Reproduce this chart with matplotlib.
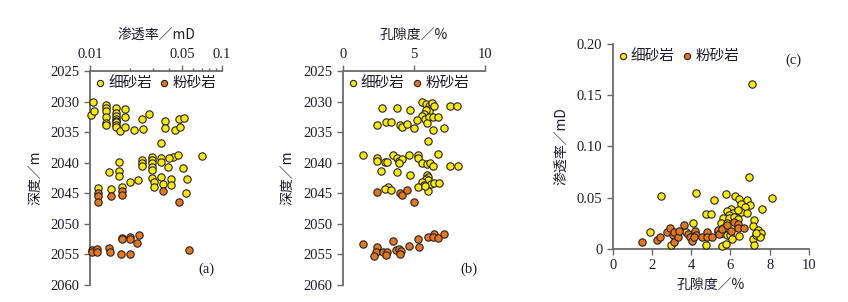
# Depth / permeability / porosity cross plots for fine sandstone vs siltstone
import numpy as np
import matplotlib.pyplot as plt
from matplotlib.ticker import FixedLocator, NullFormatter

plt.rcParams['font.family'] = ['Liberation Serif', 'Noto Sans CJK SC', 'DejaVu Sans']
CJK = ['Noto Sans CJK SC', 'DejaVu Sans']

# ─────────────────────────────────────────────
# DATA
# ─────────────────────────────────────────────

# (a) depth vs permeability
fine_a_perm = [0.0106, 0.0101, 0.0107,
               0.0133, 0.0133, 0.0133, 0.0133, 0.0133, 0.0133,
               0.0158, 0.0158, 0.0158, 0.0158, 0.0158, 0.0158, 0.0158, 0.0158,
               0.0169, 0.0185, 0.0185, 0.0185, 0.0216, 0.0247, 0.0253, 0.0281,
               0.0371, 0.0373, 0.0440, 0.0476, 0.0477, 0.0517,
               0.0348, 0.0705, 0.0427, 0.0463, 0.0396, 0.0344, 0.0344,
               0.0296, 0.0296, 0.0296, 0.0296, 0.0296,
               0.0248, 0.0248, 0.0248, 0.0391, 0.0506,
               0.0165, 0.0166, 0.0166, 0.0139, 0.0202, 0.0233,
               0.0296, 0.0305, 0.0305, 0.0344, 0.0360, 0.0408, 0.0408,
               0.0540, 0.0530, 0.0115, 0.0144, 0.0175]
fine_a_depth = [2030.1, 2032.2, 2031.6,
                2030.5, 2031.0, 2031.6, 2032.5, 2033.5, 2033.8,
                2031.0, 2031.9, 2032.4, 2032.8, 2033.1, 2033.4, 2033.9, 2034.2,
                2034.8, 2031.2, 2032.6, 2034.2, 2034.7, 2032.8, 2034.5, 2032.0,
                2033.2, 2034.3, 2034.6, 2032.8, 2034.1, 2032.7,
                2036.8, 2038.9, 2039.0, 2038.7, 2039.3, 2039.2, 2039.9,
                2039.0, 2039.6, 2040.1, 2040.7, 2041.2,
                2039.6, 2040.0, 2040.5, 2040.7, 2040.8,
                2039.9, 2041.4, 2042.2, 2041.5, 2043.2, 2042.9,
                2042.5, 2043.2, 2043.9, 2042.3, 2043.5, 2042.7, 2043.6,
                2042.7, 2045.0, 2044.1, 2044.3, 2043.9]
silt_a_perm = [0.0115, 0.0115, 0.0115, 0.0144, 0.0175, 0.0175, 0.0358, 0.0476,
               0.0175, 0.0175, 0.0202, 0.0202, 0.0235, 0.0229,
               0.0104, 0.0104, 0.0114, 0.0114, 0.0139, 0.0143, 0.0171, 0.0202,
               0.0558]
silt_a_depth = [2044.9, 2045.4, 2046.5, 2045.5, 2044.7, 2045.2, 2044.7, 2046.4,
                2052.3, 2052.5, 2052.2, 2052.5, 2051.9, 2053.1,
                2054.2, 2054.6, 2054.1, 2054.6, 2054.0, 2054.6, 2054.9, 2054.9,
                2054.3]

# (b) depth vs porosity
fine_b_por = [2.74, 3.84, 4.73, 5.55, 5.88, 6.10, 6.10, 6.10, 6.30, 6.42,
              5.85, 5.71, 5.57, 5.81, 6.07, 6.37, 6.70, 5.22, 5.90, 7.56, 8.06,
              2.41, 3.04, 3.37, 4.03, 4.19, 4.52, 5.01, 6.37, 7.12, 6.02,
              1.45, 2.40, 2.40, 2.97, 3.14, 3.54, 3.79, 3.98, 4.17, 3.93,
              4.68, 5.27, 5.27, 5.57, 5.90, 6.16, 6.32, 6.67, 7.56, 8.13,
              2.69, 3.82, 4.73, 5.90, 6.00, 5.85, 6.00,
              5.55, 5.71, 6.18, 6.44, 6.75, 5.27, 5.97, 5.81,
              3.20, 3.00, 3.37]
fine_b_depth = [2031.0, 2031.0, 2031.3, 2030.1, 2030.4, 2030.8, 2031.2, 2031.6, 2030.3, 2030.7,
                2031.3, 2032.0, 2032.3, 2032.9, 2032.6, 2032.6, 2032.5, 2033.0, 2033.5, 2030.7, 2030.8,
                2033.8, 2033.4, 2033.4, 2033.8, 2034.2, 2033.6, 2034.3, 2034.6, 2034.4, 2036.5,
                2038.8, 2039.2, 2039.7, 2039.9, 2039.9, 2038.8, 2039.2, 2039.7, 2039.4, 2040.0,
                2038.8, 2038.8, 2039.2, 2040.1, 2040.2, 2040.1, 2040.5, 2038.6, 2040.5, 2040.6,
                2041.3, 2041.5, 2042.0, 2042.0, 2042.3, 2042.7, 2042.9,
                2043.2, 2043.6, 2043.5, 2043.3, 2043.3, 2043.9, 2044.6, 2043.8,
                2043.9, 2044.3, 2044.5]
silt_b_por = [2.41, 4.03, 4.19, 4.52, 5.04,
              1.41, 2.41, 2.36, 2.18, 2.86, 3.09, 3.02, 3.56, 3.75, 3.98,
              4.10, 4.03, 4.68, 5.34, 5.30, 5.97, 6.41, 6.37, 6.67, 7.12]
silt_b_depth = [2044.8, 2044.9, 2045.3, 2044.5, 2046.4,
                2053.3, 2053.8, 2054.6, 2055.2, 2054.6, 2054.6, 2055.1, 2052.8, 2054.3, 2054.1,
                2054.4, 2055.0, 2053.7, 2053.8, 2052.4, 2052.1, 2051.7, 2052.2, 2052.3, 2051.7]

# (c) permeability vs porosity
fine_c_por = [7.12, 6.93, 8.14, 2.46, 4.22, 5.14, 5.76, 6.25, 6.42, 6.83,
              6.97, 6.53, 6.73, 7.59, 4.75, 5.02, 6.02, 5.83, 6.14, 5.90,
              6.54, 6.83, 6.39, 5.63, 5.90, 6.17, 6.39, 7.19, 4.08, 5.53,
              5.80, 6.12, 5.61, 5.80, 6.02, 7.15, 7.42, 1.88, 3.75, 5.39,
              5.61, 5.80, 5.98, 6.08, 6.44, 7.17, 7.32, 7.54, 7.51, 7.29,
              2.97, 4.75, 5.58, 5.76, 7.19]
fine_c_perm = [0.161, 0.0705, 0.050, 0.052, 0.0549, 0.0477, 0.0539, 0.0513, 0.0484, 0.0474,
               0.0429, 0.0442, 0.0406, 0.039, 0.0344, 0.0344, 0.0393, 0.0367, 0.0347, 0.0331,
               0.0357, 0.0354, 0.0377, 0.0299, 0.0299, 0.0308, 0.0295, 0.0282, 0.025, 0.025,
               0.0256, 0.0256, 0.0201, 0.0185, 0.0218, 0.0227, 0.0185, 0.0169, 0.0169, 0.0162,
               0.0153, 0.014, 0.0136, 0.0101, 0.013, 0.0101, 0.0136, 0.0153, 0.012, 0.0159,
               0.0039, 0.0039, 0.0026, 0.0045, 0.0039]
silt_c_por = [1.47, 2.24, 2.42, 2.75, 2.90, 3.07, 3.12, 3.10, 3.31, 3.37,
              3.61, 3.83, 3.95, 4.05, 4.17, 4.24, 4.14, 4.54, 4.78, 4.78,
              5.05, 5.36, 5.42, 5.59, 5.80, 6.03, 6.20, 6.37, 6.37, 6.71]
silt_c_perm = [0.0065, 0.0088, 0.0114, 0.0166, 0.0205, 0.0133, 0.0169, 0.0071, 0.0114, 0.0172,
               0.0231, 0.0146, 0.0114, 0.0081, 0.0175, 0.0136, 0.0114, 0.0114, 0.0169, 0.0114,
               0.0114, 0.0182, 0.0146, 0.0198, 0.0231, 0.0175, 0.0263, 0.0244, 0.0205, 0.0205]

LEGEND = ['细砂岩', '粉砂岩']
FINE_C = '#FFEB00'
SILT_C = '#E8761C'
TXT_C = '#1c1c2c'
SPINE_C = '#6a6a6a'


def style_axes(ax, spines):
    for name, sp in ax.spines.items():
        sp.set_visible(name in spines)
        sp.set_color(SPINE_C)
        sp.set_linewidth(1.3)
    ax.tick_params(which='both', direction='out', colors=SPINE_C,
                   labelcolor=TXT_C, labelsize=10.5, width=1.0)
    ax.tick_params(which='major', length=4)
    ax.tick_params(which='minor', length=2.5)


def draw_points(ax, x_fine, y_fine, x_silt, y_silt):
    ax.scatter(x_fine, y_fine, s=28, c=FINE_C, edgecolors='#222222',
               linewidths=0.8, zorder=3, clip_on=False, label=LEGEND[0])
    ax.scatter(x_silt, y_silt, s=28, c=SILT_C, edgecolors='#222222',
               linewidths=0.8, zorder=3, clip_on=False, label=LEGEND[1])
    ax.legend(loc='upper left', ncol=2, frameon=False, prop={'family': CJK, 'size': 10.5},
              handlelength=0.7, handletextpad=0.2, columnspacing=0.5,
              borderaxespad=0.15, borderpad=0.2, markerscale=0.85,
              labelcolor=TXT_C, bbox_to_anchor=(0.0, 1.0))


def depth_axis(ax):
    ax.set_ylim(2060, 2025)
    ax.set_yticks(np.arange(2025, 2061, 5))
    ax.set_ylabel('深度／m', family=CJK, fontsize=10, color=TXT_C, labelpad=6)
    ax.xaxis.set_ticks_position('top')
    ax.xaxis.set_label_position('top')


fig = plt.figure(figsize=(8.48, 3.02), dpi=100)

# ── Panel (a) ──
ax = fig.add_axes([0.1061, 0.0563, 0.1557, 0.7086])
draw_points(ax, fine_a_perm, fine_a_depth, silt_a_perm, silt_a_depth)
ax.set_xscale('log')
ax.set_xlim(0.01, 0.1)
ax.xaxis.set_major_locator(FixedLocator([0.01, 0.05, 0.1]))
ax.xaxis.set_minor_locator(FixedLocator([0.02, 0.03, 0.04, 0.06, 0.07, 0.08, 0.09]))
ax.xaxis.set_minor_formatter(NullFormatter())
ax.set_xticklabels(['0.01', '0.05', '0.1'])
depth_axis(ax)
ax.set_xlabel('渗透率／mD', family=CJK, fontsize=10, color=TXT_C, labelpad=6)
style_axes(ax, ['left', 'top'])
ax.text(0.88, 0.04, '(a)', transform=ax.transAxes, fontsize=10.5, color=TXT_C,
        ha='center', va='bottom')

# ── Panel (b) ──
ax = fig.add_axes([0.4041, 0.0563, 0.1678, 0.7086])
draw_points(ax, fine_b_por, fine_b_depth, silt_b_por, silt_b_depth)
ax.set_xlim(0, 10)
ax.set_xticks([0, 5, 10])
depth_axis(ax)
ax.set_xlabel('孔隙度／%', family=CJK, fontsize=10, color=TXT_C, labelpad=6)
style_axes(ax, ['left', 'top'])
ax.text(0.89, 0.04, '(b)', transform=ax.transAxes, fontsize=10.5, color=TXT_C,
        ha='center', va='bottom')

# ── Panel (c) ──
ax = fig.add_axes([0.7225, 0.1755, 0.2315, 0.680])
draw_points(ax, fine_c_por, fine_c_perm, silt_c_por, silt_c_perm)
ax.set_xlim(0, 10)
ax.set_ylim(0, 0.20)
ax.set_xticks([0, 2, 4, 6, 8, 10])
ax.set_yticks([0, 0.05, 0.10, 0.15, 0.20])
ax.set_yticklabels(['0', '0.05', '0.10', '0.15', '0.20'])
ax.set_xlabel('孔隙度／%', family=CJK, fontsize=10, color=TXT_C, labelpad=4)
ax.set_ylabel('渗透率／mD', family=CJK, fontsize=10, color=TXT_C, labelpad=6)
style_axes(ax, ['left', 'bottom'])
ax.text(0.92, 0.92, '(c)', transform=ax.transAxes, fontsize=10.5, color=TXT_C,
        ha='center', va='center')

fig.savefig('out.png', dpi=100)
